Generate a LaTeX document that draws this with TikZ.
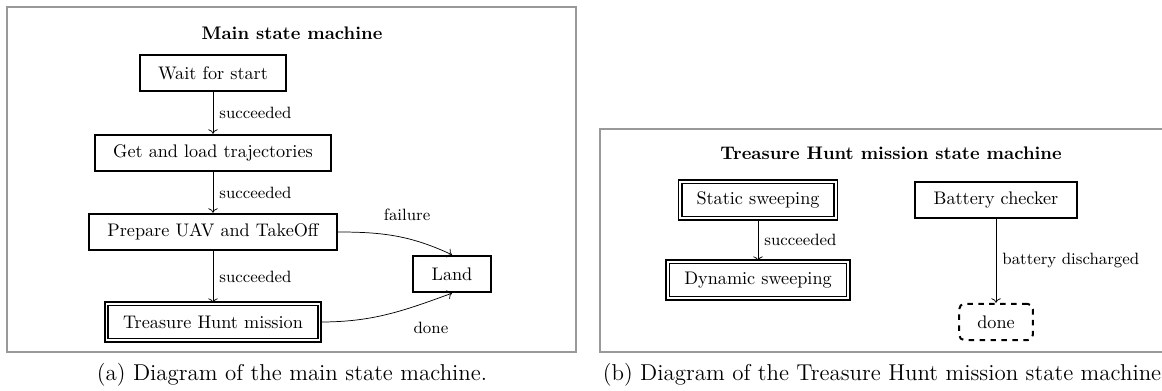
\documentclass[tikz,border=0pt]{standalone}
\usepackage{tikz}
\usetikzlibrary{arrows.meta, positioning, calc}

\tikzset{
  state/.style={draw, line width=1.1pt, inner xsep=10pt, minimum height=20pt},
  substate/.style={draw, double, line width=1pt, double distance=0.8pt, inner xsep=9pt, minimum height=20pt},
  outcome/.style={draw, dashed, rounded corners=3pt, line width=1.1pt, inner xsep=10pt, minimum height=20pt},
  trans/.style={->, thin},
  tlabel/.style={font=\small},
  frame/.style={draw=gray!80, line width=0.6pt},
  capt/.style={font=\fontsize{12.6}{15}\selectfont},
}

\begin{document}
\begin{tikzpicture}[x=0.5495pt, y=-0.5495pt]
  \useasboundingbox (0,0) rectangle (1162,391);
  % (a) main state machine
  \draw[frame] (7,7) rectangle (576,352);
  \node[font=\bfseries] (maintitle) at (292,33) {Main state machine};
  \node[state] (wait) at (213,73) {Wait for start};
  \node[state] (load) at (213,153) {Get and load trajectories};
  \node[state] (prep) at (213,232) {Prepare UAV and TakeOff};
  \node[substate] (mission) at (213,322) {Treasure Hunt mission};
  \node[state] (land) at (452,274) {Land};
  \draw[trans] (wait) -- node[tlabel, right] {succeeded} (load);
  \draw[trans] (load) -- node[tlabel, right] {succeeded} (prep);
  \draw[trans] (prep) -- node[tlabel, right] {succeeded} (mission);
  \draw[trans] (prep.east) to[out=0, in=155]
    node[tlabel, pos=0.6, anchor=south, yshift=6pt] {failure} (land.north);
  \draw[trans] (mission.east) to[out=0, in=200]
    node[tlabel, pos=0.85, anchor=north, yshift=-8pt] {done} (land.south);
  \node[capt] (capa) at (292,375) {(a) Diagram of the main state machine.};

  % (b) treasure hunt mission
  \draw[frame] (1162,129) -| (600,352) -- (1162,352);
  \node[font=\bfseries] (thtitle) at (891,153) {Treasure Hunt mission state machine};
  \node[substate] (static) at (758,200) {Static sweeping};
  \node[substate] (dynamic) at (758,280) {Dynamic sweeping};
  \node[state] (battery) at (996,200) {Battery checker};
  \node[outcome] (done) at (996,322) {done};
  \draw[trans] (static) -- node[tlabel, right] {succeeded} (dynamic);
  \draw[trans] (battery) -- node[tlabel, right] {battery discharged} (done);
  \node[capt] (capb) at (882,375) {(b) Diagram of the Treasure Hunt mission state machine};
\end{tikzpicture}
\end{document}
